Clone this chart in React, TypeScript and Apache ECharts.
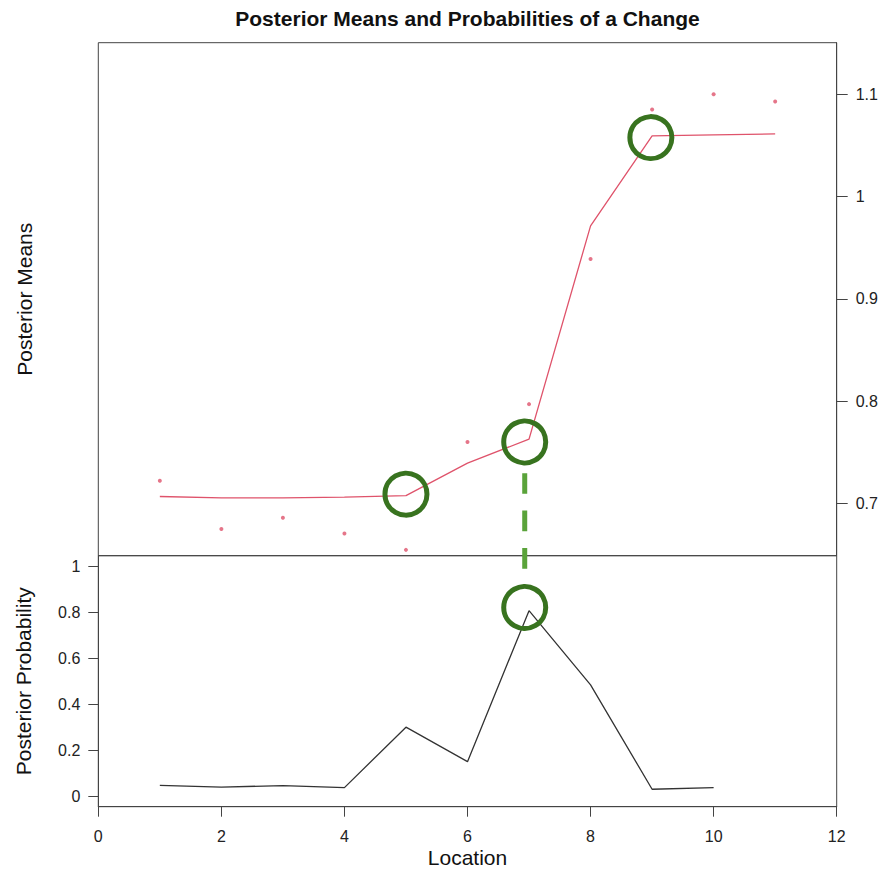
import React, { useEffect, useRef } from "react";
import * as echarts from "echarts";

const locations = [1, 2, 3, 4, 5, 6, 7, 8, 9, 10, 11];
const observed = [0.722, 0.675, 0.686, 0.6705, 0.6545, 0.76, 0.797, 0.939, 1.085, 1.1, 1.093];
const posteriorMeans = [0.7067, 0.7054, 0.7054, 0.706, 0.7076, 0.7393, 0.7628, 0.9713, 1.0592, 1.0602, 1.0612];
const probLocations = [1, 2, 3, 4, 5, 6, 7, 8, 9, 10];
const posteriorProb = [0.049, 0.041, 0.048, 0.039, 0.302, 0.152, 0.809, 0.486, 0.032, 0.039];

const xTicks = [0, 2, 4, 6, 8, 10, 12];
const meanTicks = [0.7, 0.8, 0.9, 1, 1.1];
const probTicks = [0, 0.2, 0.4, 0.6, 0.8, 1];

const topCircles = [
  [5, 0.709],
  [6.93, 0.76],
  [8.98, 1.0576],
];
const bottomCircles = [[6.93, 0.823]];
const dashX = 6.93;
const dashTopValue = 0.7295;
const dashBottomValue = 0.99;

const FONT = "Liberation Sans, Arial, Helvetica, sans-serif";
const AXIS = "#444";
const TEXT = "#222";
const PINK = "#DF536B";
const GREEN = "#38731f";
const GREEN_DASH = "#5aa33a";

export default function App() {
  const ref = useRef<HTMLDivElement>(null);
  useEffect(() => {
    if (!ref.current) return;
    const chart = echarts.init(ref.current, null, { renderer: "svg" });
    const grid0 = { left: 98.3, top: 42.7, right: 45.3, bottom: 314.3 };
    const grid1 = { left: 98.3, top: 555.7, right: 45.3, bottom: 63.3 };
    const tickLabel = { fontSize: 16, color: TEXT, fontFamily: FONT };
    const option: any = {
      animation: false,
      backgroundColor: "#fff",
      grid: [
        { ...grid0, show: true, borderColor: AXIS, borderWidth: 1, backgroundColor: "transparent", containLabel: false, outerBoundsMode: "none" },
        { ...grid1, show: true, borderColor: AXIS, borderWidth: 1, backgroundColor: "transparent", containLabel: false, outerBoundsMode: "none" },
      ],
      xAxis: [
        { type: "value", gridIndex: 0, min: 0, max: 12, show: false },
        {
          type: "value",
          gridIndex: 1,
          min: 0,
          max: 12,
          interval: 2,
          position: "bottom",
          axisLine: { show: true, onZero: false, lineStyle: { color: AXIS, width: 1 } },
          axisTick: { show: true, length: 10, lineStyle: { color: AXIS, width: 1 }, customValues: xTicks },
          axisLabel: { ...tickLabel, margin: 22, customValues: xTicks },
          splitLine: { show: false },
          name: "Location",
          nameLocation: "middle",
          nameGap: 40,
          nameTextStyle: { fontSize: 21, color: "#111", fontFamily: FONT },
        },
      ],
      yAxis: [
        {
          type: "value",
          gridIndex: 0,
          position: "right",
          min: 0.6488,
          max: 1.1504,
          axisLine: { show: true, onZero: false, lineStyle: { color: AXIS, width: 1 } },
          axisTick: { show: true, length: 11, lineStyle: { color: AXIS, width: 1 }, customValues: meanTicks },
          axisLabel: { ...tickLabel, margin: 19, customValues: meanTicks, formatter: (v: number) => String(+v.toFixed(2)) },
          splitLine: { show: false },
        },
        {
          type: "value",
          gridIndex: 1,
          position: "left",
          min: -0.044,
          max: 1.048,
          axisLine: { show: true, onZero: false, lineStyle: { color: AXIS, width: 1 } },
          axisTick: { show: true, length: 10, lineStyle: { color: AXIS, width: 1 }, customValues: probTicks },
          axisLabel: { ...tickLabel, margin: 18, customValues: probTicks, formatter: (v: number) => String(+v.toFixed(2)) },
          splitLine: { show: false },
          name: "Posterior Probability",
          nameLocation: "middle",
          nameGap: 64,
          nameRotate: 90,
          nameTextStyle: { fontSize: 21, color: "#111", fontFamily: FONT },
        },
      ],
      series: [
        {
          type: "line",
          xAxisIndex: 0,
          yAxisIndex: 0,
          data: locations.map((x, i) => [x, posteriorMeans[i]]),
          symbol: "none",
          lineStyle: { color: PINK, width: 1.3 },
          z: 2,
        },
        {
          type: "scatter",
          xAxisIndex: 0,
          yAxisIndex: 0,
          data: locations.map((x, i) => [x, observed[i]]),
          symbol: "circle",
          symbolSize: 4,
          itemStyle: { color: PINK },
          z: 2,
        },
        {
          type: "line",
          xAxisIndex: 1,
          yAxisIndex: 1,
          data: probLocations.map((x, i) => [x, posteriorProb[i]]),
          symbol: "none",
          lineStyle: { color: "#333", width: 1.3 },
          z: 2,
        },
        {
          type: "scatter",
          xAxisIndex: 0,
          yAxisIndex: 0,
          data: topCircles,
          symbol: "circle",
          symbolSize: 42,
          itemStyle: { color: "rgba(0,0,0,0)", borderColor: GREEN, borderWidth: 5, opacity: 1 },
          z: 5,
          silent: true,
        },
        {
          type: "scatter",
          xAxisIndex: 1,
          yAxisIndex: 1,
          data: bottomCircles,
          symbol: "circle",
          symbolSize: 42,
          itemStyle: { color: "rgba(0,0,0,0)", borderColor: GREEN, borderWidth: 5, opacity: 1 },
          z: 5,
          silent: true,
        },
      ],
    };
    chart.setOption(option);
    const p1 = chart.convertToPixel({ gridIndex: 0 } as any, [dashX, dashTopValue]) as number[];
    const p2 = chart.convertToPixel({ gridIndex: 1 } as any, [dashX, dashBottomValue]) as number[];
    chart.setOption({
      graphic: [
        {
          type: "text",
          id: "title",
          x: 467.5,
          y: 18.5,
          style: {
            text: "Posterior Means and Probabilities of a Change",
            fontSize: 21,
            fontWeight: "bold",
            fontFamily: FONT,
            fill: "#111",
            textAlign: "center",
            textVerticalAlign: "middle",
          },
        },
        {
          type: "text",
          id: "ylab0",
          x: 24,
          y: 299.2,
          rotation: Math.PI / 2,
          style: {
            text: "Posterior Means",
            fontSize: 21,
            fontFamily: FONT,
            fill: "#111",
            textAlign: "center",
            textVerticalAlign: "middle",
          },
        },
        {
          type: "line",
          id: "dash",
          z: 10,
          shape: { x1: p1[0], y1: p1[1], x2: p2[0], y2: p2[1] },
          style: { stroke: GREEN_DASH, lineWidth: 5, lineDash: [20.7, 16.7], lineCap: "butt" },
        },
      ],
    });
    return () => chart.dispose();
  }, []);
  return (
    <div
      ref={ref}
      style={{ position: "absolute", left: 0, top: 0, width: 882, height: 870, background: "#fff" }}
    />
  );
}
